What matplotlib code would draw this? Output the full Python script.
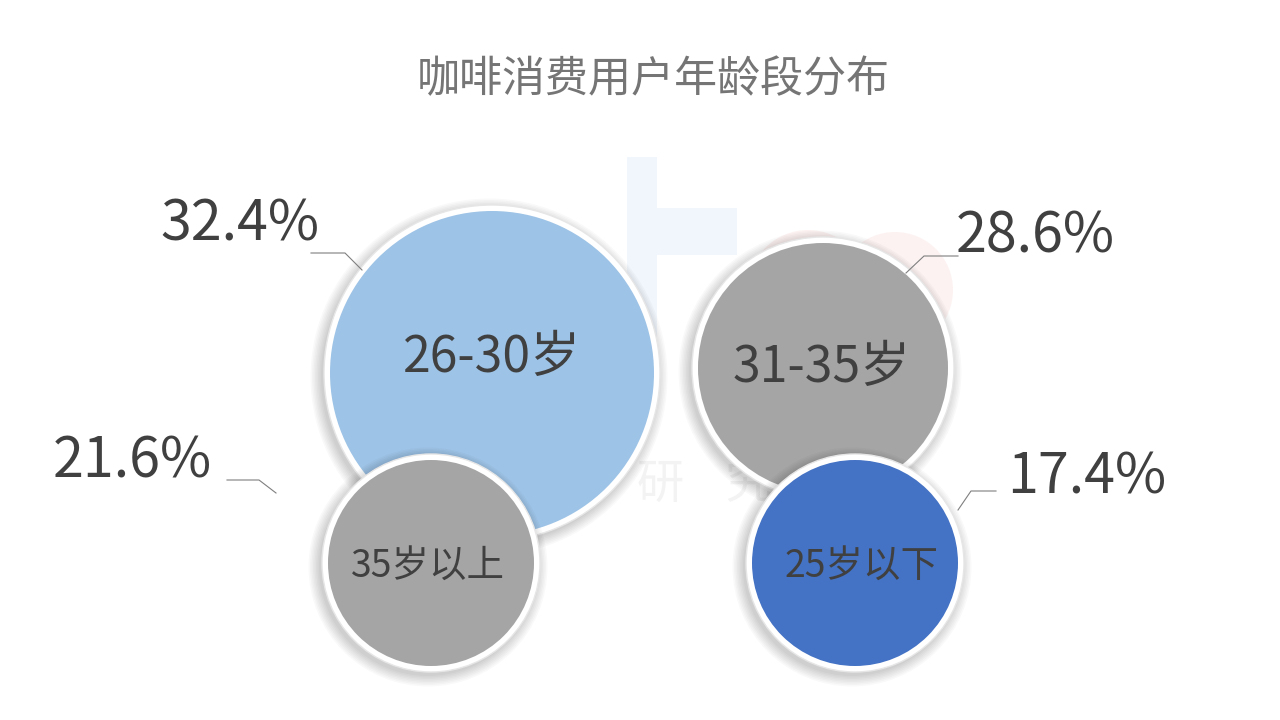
import matplotlib.pyplot as plt
from matplotlib.patches import Circle, Rectangle

plt.rcParams['font.family'] = ['Noto Sans CJK SC', 'DejaVu Sans']

# data
groups = ['26-30岁', '31-35岁', '35岁以上', '25岁以下']
shares = [32.4, 28.6, 21.6, 17.4]
colors = ['#9DC3E6', '#A5A5A5', '#A5A5A5', '#4472C4']

# layout (pixels, y down)
centers = [(492, 373), (823, 368), (431, 563), (855, 563)]
radii = [162, 125, 103, 103]
name_pos = [(492, 358), (822, 368), (428, 566), (862, 566)]
name_size = [36, 36, 27, 27]
pct_pos = [(240, 225), (1035, 237), (132, 462), (1087, 478)]
leaders = [
    [(311, 253), (345, 253), (362, 270)],
    [(906, 273), (924, 256), (958, 256)],
    [(227, 480), (259, 480), (276, 493)],
    [(958, 510), (971, 491), (996, 491)],
]

fig = plt.figure(figsize=(12.8, 7.2), dpi=100)
ax = fig.add_axes([0, 0, 1, 1])
ax.set_xlim(0, 1280)
ax.set_ylim(720, 0)
ax.axis('off')

# faint watermark (logo + text)
ax.text(660, 485, '研', fontsize=34, color='#f3f3f3', ha='center', va='center', zorder=0)
ax.text(748, 485, '究', fontsize=34, color='#f3f3f3', ha='center', va='center', zorder=0)
ax.add_patch(Rectangle((627, 157), 30, 230, color='#f1f6fd', lw=0, zorder=0))
ax.add_patch(Rectangle((657, 208), 80, 47, color='#f1f6fd', lw=0, zorder=0))
ax.add_patch(Circle((808, 290), 60, color='#fdf2f2', lw=0, zorder=0))
ax.add_patch(Circle((895, 290), 58, color='#fdf2f2', lw=0, zorder=0))

ax.text(653, 80, '咖啡消费用户年龄段分布', fontsize=31, color='#757575', ha='center', va='center')

z = 2
for (cx, cy), r, c, name, npos, ns in zip(centers, radii, colors, groups, name_pos, name_size):
    # soft shadow
    for k in range(8):
        ax.add_patch(Circle((cx - 3, cy + 4), r + 6 + k * 1.5, color='black', alpha=0.025, lw=0, zorder=z))
    ax.add_patch(Circle((cx, cy), r + 6, color='white', ec='#e6e6e6', lw=1, zorder=z + 0.1))
    ax.add_patch(Circle((cx, cy), r, color=c, lw=0, zorder=z + 0.2))
    ax.text(npos[0], npos[1], name, fontsize=ns, color='#404040', ha='center', va='center', zorder=z + 0.3)
    z += 1

for v, p, seg in zip(shares, pct_pos, leaders):
    ax.text(p[0], p[1], '%.1f%%' % v, fontsize=40, color='#404040', ha='center', va='center', zorder=10)
    xs = [s[0] for s in seg]
    ys = [s[1] for s in seg]
    ax.plot(xs, ys, color='#7f7f7f', lw=0.8, zorder=10)

plt.savefig('out.png', dpi=100)
